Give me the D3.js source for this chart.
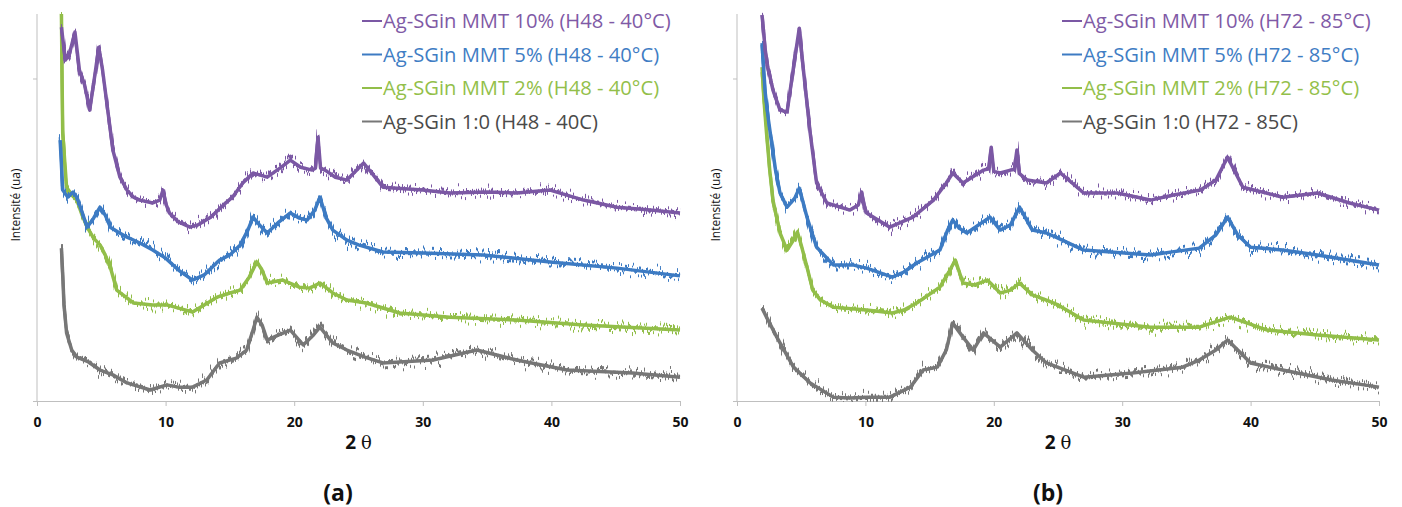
<!DOCTYPE html>
<html>
<head>
<meta charset="utf-8">
<script src="https://cdn.jsdelivr.net/npm/d3@7"></script>
<style>
  html, body { margin: 0; padding: 0; background: #fff; }
  svg { display: block; }
</style>
</head>
<body>
<svg id="chart" width="1402" height="507"></svg>
<script>
// ---------- DATA (2θ in degrees, intensity in arbitrary units) ----------
const xTicks = [0, 10, 20, 30, 40, 50];
const yTicks = [0, 1000];

const legendA = ["Ag-SGin MMT 10% (H48 - 40°C)", "Ag-SGin MMT 5% (H48 - 40°C)", "Ag-SGin MMT 2% (H48 - 40°C)", "Ag-SGin 1:0 (H48 - 40C)"];
const legendB = ["Ag-SGin MMT 10% (H72 - 85°C)", "Ag-SGin MMT 5% (H72 - 85°C)", "Ag-SGin MMT 2% (H72 - 85°C)", "Ag-SGin 1:0 (H72 - 85C)"];

// Panel (a)
const a10 = [[1.9,1159],[2.2,1057],[2.5,1073],[2.95,1144],[3.3,1026],[3.7,980],[4.1,902],[4.5,1011],[4.8,1097],[5.1,1026],[5.4,933],[5.9,778],[6.45,694],[7.0,654],[7.5,632],[8.0,623],[9.0,614],[9.55,623],[9.8,654],[10.05,608],[10.3,583],[11.0,555],[11.9,539],[12.5,546],[13.5,570],[14.5,608],[15.2,632],[16.0,676],[16.8,707],[17.9,694],[19.0,725],[19.7,747],[20.5,725],[21.4,716],[21.65,722],[21.85,818],[22.05,722],[22.4,716],[23.2,694],[24.1,685],[25.4,738],[26.9,663],[28,660],[30,654],[32.1,645],[35,648],[37.3,645],[39.9,654],[42.5,623],[45.1,601],[47.7,592],[50,583]];
const a5 = [[1.8,809],[1.9,732],[2.0,654],[2.4,632],[2.8,648],[3.1,632],[3.5,586],[3.9,539],[4.4,567],[4.9,601],[5.3,577],[5.7,539],[6.3,524],[7.0,508],[8.0,490],[9.0,468],[10.0,443],[11.0,406],[12.1,375],[13.0,391],[14.2,437],[15.0,453],[15.8,484],[16.4,530],[16.8,570],[17.3,546],[17.9,521],[18.8,555],[19.7,583],[20.4,567],[21.0,561],[21.6,592],[22.0,632],[22.5,567],[23.0,530],[24.1,499],[25,484],[26.9,462],[30,459],[34.7,453],[39.9,431],[45.1,412],[50,388]];
const a2 = [[1.9,1200],[1.95,995],[2.0,831],[2.3,663],[2.7,639],[3.1,623],[3.5,577],[3.9,539],[4.4,505],[4.9,484],[5.3,453],[5.7,415],[6.2,344],[7.5,304],[9,298],[10.1,298],[11,288],[12.1,276],[13,298],[14,322],[15,335],[15.8,344],[16.5,384],[17.1,431],[17.5,406],[17.9,366],[19.1,375],[20.4,353],[21.2,350],[22.0,366],[23,335],[24.1,313],[25.6,304],[28.2,273],[32.1,260],[37.3,251],[42.5,236],[50,220]];
const a0 = [[1.9,474],[2.0,391],[2.1,298],[2.3,211],[2.7,158],[3.1,136],[4.0,121],[4.9,96],[5.9,81],[7,56],[8.8,34],[10.1,50],[11,43],[12.1,43],[13.2,65],[14.2,118],[15.5,133],[16.3,158],[16.8,220],[17.1,260],[17.5,236],[17.9,189],[18.8,205],[19.7,220],[20.7,174],[21.5,205],[22.0,229],[23,180],[24.1,158],[25.5,136],[26.9,118],[30.8,127],[34.2,158],[37.3,127],[41.2,96],[46.3,87],[50,74]];

// Panel (b)
const b10 = [[1.95,1197],[2.2,1088],[2.4,1035],[2.8,964],[3.35,902],[3.9,896],[4.4,1035],[4.85,1156],[5.15,1035],[5.7,831],[6.2,676],[7.0,614],[8.8,592],[9.45,608],[9.7,648],[9.95,600],[10.1,583],[11.9,539],[13.7,570],[15.3,623],[16.3,676],[16.8,707],[17.6,676],[19.2,716],[19.6,720],[19.8,787],[20.0,712],[20.5,707],[21.3,716],[21.6,718],[21.8,778],[22.0,705],[22.6,685],[24.1,676],[25.2,707],[27,645],[29.6,645],[32.2,623],[34,639],[36.1,654],[37.3,685],[38.2,756],[39.4,663],[42.5,632],[45.2,645],[47.7,614],[50,592]];
const b5 = [[1.95,1110],[2.2,955],[2.45,871],[2.7,800],[3.0,716],[3.35,645],[3.9,601],[4.5,629],[4.85,660],[5.1,623],[5.45,570],[6.2,477],[7.5,422],[9,422],[10.1,412],[12.1,384],[13,400],[14,428],[15.8,468],[16.4,530],[16.8,561],[17.3,536],[17.9,521],[19.7,570],[20.5,530],[21.3,546],[22.0,601],[23,530],[24.1,521],[25,505],[27,468],[32.2,453],[36,474],[37.3,515],[38.2,570],[39,515],[40,477],[42.5,468],[45.2,453],[50,422]];
const b2 = [[1.95,1035],[2.1,933],[2.3,831],[2.55,716],[2.8,623],[3.35,521],[3.9,468],[4.4,499],[4.7,524],[5.0,484],[5.45,415],[5.9,344],[6.5,313],[7.5,291],[10.1,282],[12.1,273],[13,282],[14,304],[15.8,353],[16.5,400],[17.0,437],[17.6,366],[18.5,360],[19.5,375],[20.5,335],[21.3,344],[22.0,366],[23,329],[24.1,313],[25,298],[27,251],[32.2,229],[36,229],[38.4,260],[41.3,220],[45.2,205],[50,189]];
const b0 = [[1.95,288],[2.3,260],[3.1,198],[4.4,105],[5.7,56],[7.5,12],[8.8,9],[10.1,12],[11.9,12],[13.5,43],[14.5,96],[15.6,105],[16.3,158],[16.8,242],[17.6,198],[18.4,158],[19.2,211],[20.5,167],[21.8,211],[23,158],[24.1,118],[27,74],[30.8,87],[34.7,105],[36,127],[37.3,158],[38.2,189],[39,158],[40,118],[42.5,96],[46.3,65],[50,43]];

const seriesColors = ["#7B58A4", "#3D7BC3", "#92BE49", "#777777"];
const legendColors = ["#7F5AA6", "#3F7DC4", "#93BF4A", "#4A4A4A"];

// ---------- LAYOUT ----------
const svg = d3.select("#chart");
const plotTop = 14, plotBottom = 401;
const panels = [
  { x0: 37, x1: 680, series: [a10, a5, a2, a0], legend: legendA, legendX: 362, sub: "(a)", subX: 338, ylabX: 15 },
  { x0: 737, x1: 1379, series: [b10, b5, b2, b0], legend: legendB, legendX: 1062, sub: "(b)", subX: 1048, ylabX: 715 }
];

const defs = svg.append("defs");
const filt = defs.append("filter").attr("id", "noise")
  .attr("filterUnits", "userSpaceOnUse").attr("x", 0).attr("y", 0).attr("width", 1402).attr("height", 507)
  .attr("color-interpolation-filters", "sRGB");
filt.append("feTurbulence").attr("type", "fractalNoise").attr("baseFrequency", "0.6 0.01")
  .attr("numOctaves", 2).attr("seed", 11).attr("result", "t")
  .attr("color-interpolation-filters", "sRGB");
filt.append("feColorMatrix").attr("in", "t").attr("type", "matrix")
  .attr("values", "0 0 0 0 0.5  0 1 0 0 0  0 0 0 0 0  0 0 0 0 1").attr("result", "m")
  .attr("color-interpolation-filters", "sRGB");
filt.append("feDisplacementMap").attr("in", "SourceGraphic").attr("in2", "m")
  .attr("scale", 24).attr("xChannelSelector", "R").attr("yChannelSelector", "G")
  .attr("color-interpolation-filters", "sRGB");

const y = d3.scaleLinear().domain([0, 1200]).range([plotBottom, plotTop]);

panels.forEach((p, pi) => {
  const x = d3.scaleLinear().domain([0, 50]).range([p.x0, p.x1]);
  const g = svg.append("g");

  defs.append("clipPath").attr("id", "clip" + pi).append("rect")
    .attr("x", p.x0).attr("y", plotTop - 2).attr("width", p.x1 - p.x0 + 4).attr("height", plotBottom - plotTop + 3);

  // axes
  const xAxis = d3.axisBottom(x).tickValues(xTicks).tickSize(5).tickSizeOuter(0).tickFormat(d3.format("d"));
  const gx = g.append("g").attr("transform", `translate(0,${plotBottom})`).call(xAxis);
  gx.select(".domain").attr("stroke", "#BFBFBF");
  gx.selectAll(".tick line").attr("stroke", "#BFBFBF");
  gx.selectAll(".tick text").attr("y", 16).attr("font-family", "'Open Sans', sans-serif")
    .attr("font-size", 14).attr("font-weight", "bold").attr("fill", "#111");

  const yAxis = d3.axisLeft(y).tickValues(yTicks).tickSize(4).tickSizeOuter(0).tickFormat("");
  const gy = g.append("g").attr("transform", `translate(${p.x0},0)`).call(yAxis);
  gy.select(".domain").attr("stroke", "#BFBFBF").attr("d", `M0,${plotTop}V${plotBottom}`);
  gy.selectAll(".tick line").attr("stroke", "#BFBFBF");

  // series (draw bottom-most first): solid core + noisy overlay
  const line = d3.line().x(d => x(d[0])).y(d => y(d[1]));
  const lg = g.append("g").attr("clip-path", `url(#clip${pi})`);
  [3, 2, 1, 0].forEach(i => {
    const sg = lg.append("g");
    sg.append("path").datum(p.series[i])
      .attr("d", line)
      .attr("fill", "none")
      .attr("stroke", seriesColors[i])
      .attr("stroke-width", 3.5)
      .attr("stroke-linejoin", "round");
    sg.append("path").datum(p.series[i])
      .attr("d", line)
      .attr("fill", "none")
      .attr("stroke", seriesColors[i])
      .attr("stroke-width", 3)
      .attr("stroke-linejoin", "round")
      .attr("filter", "url(#noise)");
  });

  // legend
  p.legend.forEach((t, i) => {
    const base = 28 + i * 33.5;
    g.append("line").attr("x1", p.legendX).attr("x2", p.legendX + 20)
      .attr("y1", base - 7).attr("y2", base - 7)
      .attr("stroke", seriesColors[i]).attr("stroke-width", 2);
    const txt = g.append("text").attr("x", p.legendX + 21).attr("y", base)
      .attr("font-family", "'Open Sans', sans-serif").attr("font-size", 18)
      .attr("fill", legendColors[i]).text(t);
    const target = 288;
    const w = txt.node().getComputedTextLength();
    if (i === 0) p.fs = 18 * target / w;
    txt.attr("font-size", p.fs);
  });

  // y label
  g.append("text")
    .attr("transform", `translate(${p.ylabX},205) rotate(-90)`)
    .attr("text-anchor", "middle").attr("dominant-baseline", "central")
    .attr("font-family", "'Open Sans', sans-serif").attr("font-size", 12).attr("fill", "#111")
    .text("Intensité (ua)");

  // x title
  const xt = g.append("text").attr("x", (p.x0 + p.x1) / 2).attr("y", 449)
    .attr("text-anchor", "middle").attr("fill", "#111");
  xt.append("tspan").attr("font-family", "'Open Sans', sans-serif").attr("font-weight", "bold").attr("font-size", 19).text("2 ");
  xt.append("tspan").attr("font-family", "'DejaVu Serif', serif").attr("font-size", 18).text("θ");

  // panel sub label
  g.append("text").attr("x", p.subX).attr("y", 501).attr("text-anchor", "middle")
    .attr("font-family", "'Open Sans', sans-serif").attr("font-weight", "bold").attr("font-size", 23)
    .attr("fill", "#111").text(p.sub);
});
</script>
</body>
</html>
